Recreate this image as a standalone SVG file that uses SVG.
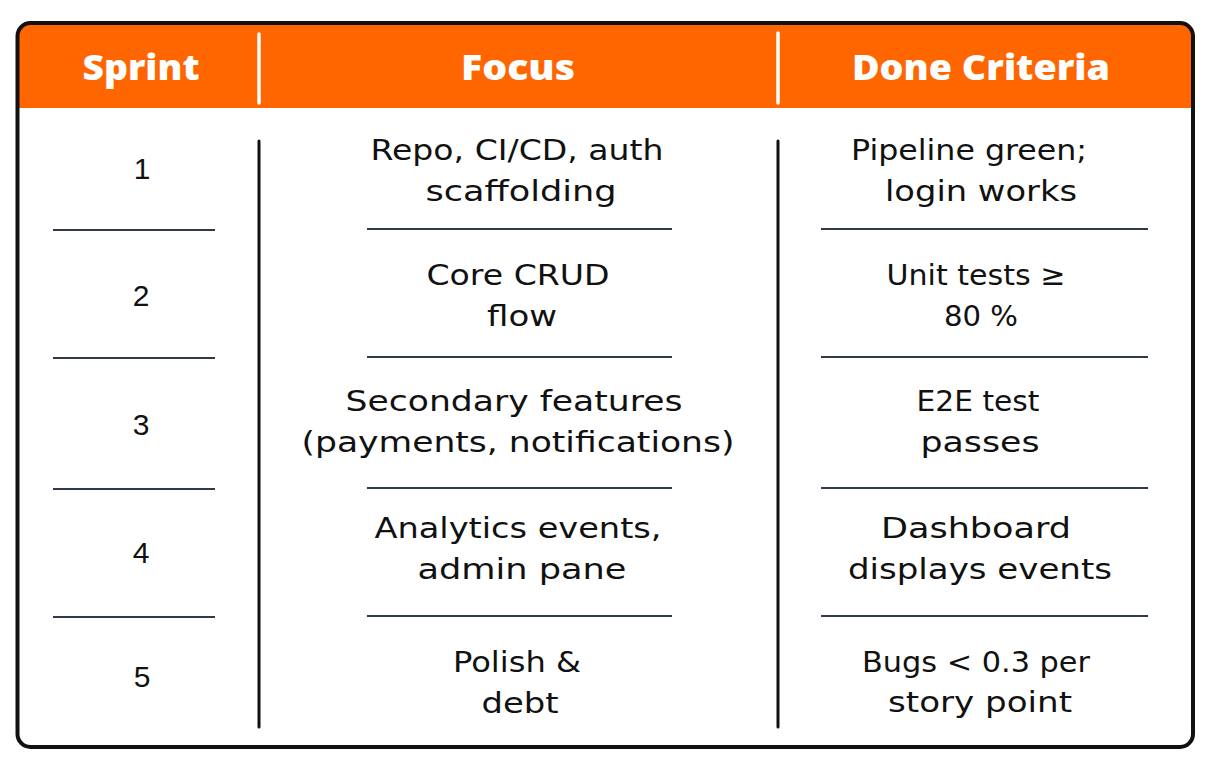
<svg xmlns="http://www.w3.org/2000/svg" width="1210" height="765" viewBox="0 0 1210 765">
<style>
.hd{font-family:"Open Sans","Liberation Sans",sans-serif;font-weight:800;font-size:35px;fill:#ffffff;text-anchor:middle}
.tx{font-family:"DejaVu Sans","Liberation Sans",sans-serif;font-size:29px;fill:#111111;text-anchor:middle}
.num{font-family:"Liberation Sans",Arial,sans-serif;font-size:30px;fill:#111111;text-anchor:middle}
.sep{stroke:#2f3b47;stroke-width:2}
.vl{stroke:#111111;stroke-width:3;stroke-linecap:round}
.wl{stroke:#ffffff;stroke-width:3.5;stroke-linecap:round}
</style>
<rect width="1210" height="765" fill="#ffffff"/>
<g id="table">
<path d="M17,108 L17,36 Q17,23 30,23 L1180,23 Q1193,23 1193,36 L1193,108 Z" fill="#ff6600"/>
<rect x="17.5" y="23" width="1175.5" height="724" rx="13" fill="none" stroke="#111111" stroke-width="4"/>
</g>
<g id="header">
<line class="wl" x1="259" y1="34" x2="259" y2="103"/>
<line class="wl" x1="778" y1="33" x2="778" y2="103"/>
<text class="hd" x="141" y="80" textLength="117" lengthAdjust="spacingAndGlyphs">Sprint</text>
<text class="hd" x="518" y="80" textLength="114" lengthAdjust="spacingAndGlyphs">Focus</text>
<text class="hd" x="981" y="80" textLength="258" lengthAdjust="spacingAndGlyphs">Done Criteria</text>
</g>
<g id="connectors">
<line class="vl" x1="259" y1="141" x2="259" y2="727"/>
<line class="vl" x1="778" y1="141" x2="778" y2="727"/>
<line class="sep" x1="53" y1="230" x2="215" y2="230"/>
<line class="sep" x1="53" y1="358" x2="215" y2="358"/>
<line class="sep" x1="53" y1="489" x2="215" y2="489"/>
<line class="sep" x1="53" y1="617" x2="215" y2="617"/>
<line class="sep" x1="367" y1="229" x2="672" y2="229"/>
<line class="sep" x1="367" y1="357" x2="672" y2="357"/>
<line class="sep" x1="367" y1="488" x2="672" y2="488"/>
<line class="sep" x1="367" y1="616" x2="672" y2="616"/>
<line class="sep" x1="821" y1="229" x2="1148" y2="229"/>
<line class="sep" x1="821" y1="357" x2="1148" y2="357"/>
<line class="sep" x1="821" y1="488" x2="1148" y2="488"/>
<line class="sep" x1="821" y1="616" x2="1148" y2="616"/>
</g>
<g id="row1">
<text class="num" x="142" y="179">1</text>
<text class="tx" x="517" y="160" textLength="293" lengthAdjust="spacingAndGlyphs">Repo, CI/CD, auth</text>
<text class="tx" x="521" y="201" textLength="191" lengthAdjust="spacingAndGlyphs">scaffolding</text>
<text class="tx" x="969" y="160" textLength="236" lengthAdjust="spacingAndGlyphs">Pipeline green;</text>
<text class="tx" x="981" y="201" textLength="192" lengthAdjust="spacingAndGlyphs">login works</text>
</g>
<g id="row2">
<text class="num" x="141" y="306">2</text>
<text class="tx" x="518" y="285" textLength="183" lengthAdjust="spacingAndGlyphs">Core CRUD</text>
<text class="tx" x="522" y="326" textLength="70" lengthAdjust="spacingAndGlyphs">flow</text>
<text class="tx" x="976" y="285" textLength="179" lengthAdjust="spacingAndGlyphs">Unit tests ≥</text>
<text class="tx" x="981" y="326" textLength="74" lengthAdjust="spacingAndGlyphs">80 %</text>
</g>
<g id="row3">
<text class="num" x="141" y="435">3</text>
<text class="tx" x="514" y="411" textLength="337" lengthAdjust="spacingAndGlyphs">Secondary features</text>
<text class="tx" x="518" y="452" textLength="433" lengthAdjust="spacingAndGlyphs">(payments, notifications)</text>
<text class="tx" x="978" y="411" textLength="123" lengthAdjust="spacingAndGlyphs">E2E test</text>
<text class="tx" x="980" y="452" textLength="119" lengthAdjust="spacingAndGlyphs">passes</text>
</g>
<g id="row4">
<text class="num" x="141" y="563">4</text>
<text class="tx" x="518" y="538" textLength="287" lengthAdjust="spacingAndGlyphs">Analytics events,</text>
<text class="tx" x="522" y="579" textLength="209" lengthAdjust="spacingAndGlyphs">admin pane</text>
<text class="tx" x="976" y="538" textLength="190" lengthAdjust="spacingAndGlyphs">Dashboard</text>
<text class="tx" x="980" y="579" textLength="264" lengthAdjust="spacingAndGlyphs">displays events</text>
</g>
<g id="row5">
<text class="num" x="142" y="687">5</text>
<text class="tx" x="517" y="672" textLength="128" lengthAdjust="spacingAndGlyphs">Polish &amp;</text>
<text class="tx" x="520" y="713" textLength="77" lengthAdjust="spacingAndGlyphs">debt</text>
<text class="tx" x="976" y="672" textLength="228" lengthAdjust="spacingAndGlyphs">Bugs &lt; 0.3 per</text>
<text class="tx" x="980" y="712" textLength="184" lengthAdjust="spacingAndGlyphs">story point</text>
</g>
</svg>
